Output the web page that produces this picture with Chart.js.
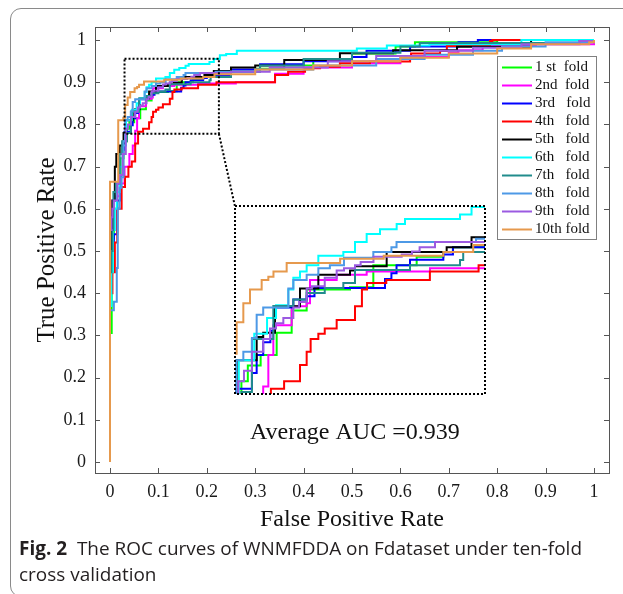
<!DOCTYPE html>
<html>
<head>
<meta charset="utf-8">
<script src="https://cdn.jsdelivr.net/npm/chart.js@4.4.1/dist/chart.umd.min.js"></script>
<style>
  html, body { margin: 0; padding: 0; background: #fff; overflow: hidden; }
  #wrap { position: relative; width: 623px; height: 594px; overflow: hidden; }
  #frame { position: absolute; left: 10px; top: 8px; width: 660px; height: 587px;
           border: 1px solid #8a8a8a; border-radius: 11px; }
  #main { position: absolute; left: 0; top: 0; }
  #inset { position: absolute; }
  .caption { position: absolute; left: 19px; font-family: "Open Sans", "Noto Sans", sans-serif;
             font-size: 19px; line-height: 19px; color: #231f20; white-space: nowrap;
             transform-origin: 0 0; }
</style>
</head>
<body>
<div id="wrap">
  <div id="frame"></div>
  <canvas id="main" width="623" height="594"></canvas>
  <canvas id="inset"></canvas>
  <div class="caption" id="cap1" style="top:539px"><b>Fig. 2</b>&nbsp; The ROC curves of WNMFDDA on Fdataset under ten-fold</div>
  <div class="caption" id="cap2" style="top:565px">cross validation</div>
</div>
<script>
// ROC points per fold, [FPR, TPR]
const fold1 = [[0,0],[0,0.306],[0.0035,0.53],[0.008,0.6],[0.015,0.66],[0.022,0.72],[0.028,0.76],[0.035,0.79],[0.04,0.805],[0.05,0.815],[0.0625,0.836],[0.0742,0.857],[0.0859,0.877],[0.1197,0.879],[0.1379,0.9],[0.1717,0.908],[0.1925,0.9125],[0.2,0.917],[0.25,0.925],[0.3,0.932],[0.36,0.94],[0.42,0.952],[0.5,0.968],[0.59,0.985],[0.63,0.995],[0.8,1],[1,1]];
const fold2 = [[0,0],[0,0.54],[0.003,0.58],[0.005,0.62],[0.012,0.63],[0.02,0.66],[0.03,0.7],[0.04,0.73],[0.047,0.75],[0.052,0.785],[0.056,0.815],[0.0599,0.843],[0.0742,0.861],[0.0859,0.864],[0.0885,0.886],[0.1093,0.891],[0.1327,0.894],[0.1821,0.897],[0.26,0.9],[0.341,0.92],[0.4,0.935],[0.5,0.945],[0.6,0.96],[0.7,0.97],[0.72,0.976],[0.77,0.987],[0.88,0.99],[1,1]];
const fold3 = [[0,0],[0,0.45],[0.004,0.5],[0.008,0.54],[0.015,0.62],[0.022,0.68],[0.027,0.74],[0.03,0.783],[0.0432,0.798],[0.0469,0.815],[0.052,0.827],[0.0576,0.838],[0.0612,0.86],[0.0755,0.8675],[0.0859,0.8706],[0.092,0.8784],[0.147,0.8868],[0.152,0.8923],[0.156,0.9],[0.1665,0.905],[0.1925,0.91],[0.2,0.917],[0.25,0.93],[0.31,0.943],[0.4,0.95],[0.5,0.96],[0.53,0.975],[0.62,0.985],[0.72,0.995],[0.76,1],[1,1]];
const fold4 = [[0,0],[0,0.4],[0.005,0.45],[0.01,0.52],[0.015,0.6],[0.024,0.652],[0.031,0.676],[0.038,0.7],[0.045,0.712],[0.052,0.755],[0.058,0.783],[0.0683,0.79],[0.0807,0.8055],[0.0859,0.8179],[0.089,0.83],[0.095,0.835],[0.1,0.84],[0.1093,0.848],[0.1236,0.861],[0.129,0.877],[0.133,0.883],[0.148,0.886],[0.182,0.894],[0.22,0.9],[0.341,0.917],[0.368,0.925],[0.403,0.933],[0.434,0.937],[0.475,0.945],[0.537,0.949],[0.62,0.96],[0.622,0.968],[0.682,0.975],[0.696,0.986],[0.785,0.998],[0.79,1],[1,1]];
const fold5 = [[0,0],[0,0.45],[0.002,0.55],[0.005,0.62],[0.01,0.7],[0.013,0.73],[0.02,0.75],[0.028,0.78],[0.0313,0.81],[0.0469,0.832],[0.052,0.836],[0.0612,0.861],[0.0807,0.878],[0.095,0.891],[0.1197,0.895],[0.1236,0.899],[0.1483,0.9125],[0.1951,0.917],[0.2145,0.9265],[0.25,0.935],[0.3,0.94],[0.36,0.953],[0.475,0.969],[0.585,0.976],[0.717,0.984],[0.87,1],[1,1]];
const fold6 = [[0,0],[0,0.37],[0.003,0.45],[0.006,0.55],[0.01,0.6],[0.014,0.64],[0.02,0.7],[0.026,0.75],[0.033,0.81],[0.045,0.835],[0.055,0.85],[0.062,0.862],[0.0716,0.877],[0.0755,0.888],[0.0807,0.894],[0.0859,0.9],[0.095,0.909],[0.1145,0.9125],[0.1236,0.922],[0.1327,0.9296],[0.1431,0.934],[0.1561,0.939],[0.1626,0.9436],[0.2055,0.948],[0.2145,0.955],[0.227,0.964],[0.24,0.967],[0.262,0.975],[0.51,0.98],[0.572,0.987],[0.66,0.99],[0.85,1],[1,1]];
const fold7 = [[0,0],[0,0.45],[0.003,0.5],[0.005,0.55],[0.007,0.64],[0.012,0.66],[0.02,0.73],[0.025,0.76],[0.035,0.78],[0.0432,0.83],[0.0599,0.8613],[0.0755,0.8675],[0.0859,0.8737],[0.1,0.8784],[0.1145,0.883],[0.1236,0.8954],[0.1665,0.9],[0.2055,0.9048],[0.208,0.9125],[0.25,0.925],[0.31,0.94],[0.4,0.955],[0.5,0.97],[0.6,0.985],[0.64,0.993],[0.97,0.998],[1,1]];
const fold8 = [[0,0],[0,0.36],[0.008,0.38],[0.014,0.46],[0.016,0.6],[0.02,0.65],[0.024,0.675],[0.028,0.76],[0.031,0.81],[0.0365,0.818],[0.0432,0.831],[0.0469,0.853],[0.052,0.86],[0.0716,0.878],[0.0755,0.886],[0.0859,0.891],[0.095,0.897],[0.104,0.9],[0.115,0.907],[0.1379,0.9125],[0.152,0.917],[0.156,0.922],[0.218,0.925],[0.3,0.93],[0.42,0.94],[0.55,0.955],[0.65,0.965],[0.75,0.975],[0.81,0.985],[0.9,0.995],[1,1]];
const fold9 = [[0,0],[0,0.55],[0.003,0.58],[0.005,0.6],[0.008,0.62],[0.015,0.66],[0.02,0.68],[0.026,0.73],[0.0326,0.79],[0.037,0.8],[0.0432,0.818],[0.052,0.83],[0.0573,0.84],[0.062,0.845],[0.0677,0.85],[0.0755,0.86],[0.08,0.865],[0.0859,0.878],[0.09,0.88],[0.1,0.888],[0.1093,0.895],[0.115,0.897],[0.1236,0.9],[0.128,0.903],[0.138,0.908],[0.16,0.91],[0.168,0.913],[0.174,0.917],[0.186,0.922],[0.25,0.925],[0.33,0.935],[0.45,0.95],[0.55,0.962],[0.65,0.975],[0.75,0.982],[0.85,0.99],[0.97,0.998],[1,1]];
const fold10 = [[0,0],[0,0.664],[0.017,0.81],[0.0275,0.816],[0.0313,0.846],[0.0365,0.864],[0.0417,0.877],[0.0508,0.886],[0.056,0.889],[0.06,0.894],[0.0703,0.902],[0.112,0.906],[0.146,0.909],[0.1925,0.9125],[0.2158,0.919],[0.3,0.93],[0.42,0.94],[0.5,0.95],[0.6,0.958],[0.7,0.968],[0.8,0.98],[0.87,0.99],[0.99,0.995],[1,1]];

const folds = [fold1, fold2, fold3, fold4, fold5, fold6, fold7, fold8, fold9, fold10];
const foldNames = ['1 st  fold', '2nd  fold', '3rd   fold', '4th   fold', '5th   fold',
                   '6th   fold', '7th   fold', '8th   fold', '9th   fold', '10th fold'];
const xTicks = [0, 0.1, 0.2, 0.3, 0.4, 0.5, 0.6, 0.7, 0.8, 0.9, 1];
const yTicks = [0, 0.1, 0.2, 0.3, 0.4, 0.5, 0.6, 0.7, 0.8, 0.9, 1];
const aucText = 'Average AUC =0.939';

// styles / placement
const foldColors = ['#00ff00', '#ff00ff', '#0000ff', '#ff0000', '#000000',
                    '#00ffff', '#218c8c', '#4d99e6', '#9b5ae1', '#e6994d'];
const zoomX = [0.03, 0.225], zoomY = [0.778, 0.956];     // region magnified
const insetX = [0.258, 0.775], insetY = [0.161, 0.607];  // where the inset sits
const serif = '"Liberation Serif", "Times New Roman", serif';

function makeDatasets(clip) {
  return folds.map((pts, i) => ({
    label: foldNames[i],
    data: pts.map(p => ({ x: p[0], y: p[1] })),
    borderColor: foldColors[i],
    borderWidth: 2,
    pointRadius: 0,
    stepped: true,
    fill: false,
    clip: clip,
    order: folds.length - i
  }));
}

function dotted(ctx) {
  ctx.strokeStyle = '#000';
  ctx.lineWidth = 2;
  ctx.setLineDash([2, 2]);
}

// axes box, inward ticks, zoom marker, legend and AUC text
const decorPlugin = {
  id: 'decor',
  afterDatasetsDraw(chart) {
    const ctx = chart.ctx, a = chart.chartArea;
    const xs = chart.scales.x, ys = chart.scales.y;
    ctx.save();
    // box + ticks
    ctx.strokeStyle = '#555';
    ctx.lineWidth = 1;
    ctx.strokeRect(a.left + 0.5, a.top + 0.5, a.right - a.left, a.bottom - a.top);
    ctx.beginPath();
    xTicks.forEach(v => {
      const px = Math.round(xs.getPixelForValue(v)) + 0.5;
      ctx.moveTo(px, a.bottom); ctx.lineTo(px, a.bottom - 5);
      ctx.moveTo(px, a.top); ctx.lineTo(px, a.top + 5);
    });
    yTicks.forEach(v => {
      const py = Math.round(ys.getPixelForValue(v)) + 0.5;
      ctx.moveTo(a.left, py); ctx.lineTo(a.left + 5, py);
      ctx.moveTo(a.right, py); ctx.lineTo(a.right - 5, py);
    });
    ctx.stroke();

    // zoom marker and connector
    const x0 = xs.getPixelForValue(zoomX[0]), x1 = xs.getPixelForValue(zoomX[1]);
    const y0 = ys.getPixelForValue(zoomY[0]), y1 = ys.getPixelForValue(zoomY[1]);
    dotted(ctx);
    ctx.strokeRect(x0, y1, x1 - x0, y0 - y1);
    ctx.beginPath();
    ctx.moveTo(x1, y0);
    ctx.lineTo(xs.getPixelForValue(insetX[0]), ys.getPixelForValue(insetY[1]));
    ctx.stroke();
    ctx.setLineDash([]);

    // legend
    const lx = 497, ly = 56, lw = 99, lh = 183;
    ctx.fillStyle = '#fff';
    ctx.fillRect(lx, ly, lw, lh);
    ctx.strokeStyle = '#808080';
    ctx.lineWidth = 1;
    ctx.strokeRect(lx + 0.5, ly + 0.5, lw, lh);
    ctx.font = '15px ' + serif;
    ctx.textBaseline = 'middle';
    ctx.textAlign = 'left';
    foldNames.forEach((name, i) => {
      const ry = 67.5 + i * 18;
      ctx.strokeStyle = foldColors[i];
      ctx.lineWidth = 2;
      ctx.beginPath();
      ctx.moveTo(502, ry); ctx.lineTo(532, ry);
      ctx.stroke();
      ctx.fillStyle = '#111';
      ctx.fillText(name, 535, ry);
    });

    // AUC note
    ctx.font = '24px ' + serif;
    ctx.textBaseline = 'alphabetic';
    ctx.fillStyle = '#111';
    ctx.fillText(aucText, 250, 439);
    ctx.restore();
  }
};

const mainChart = new Chart(document.getElementById('main'), {
  type: 'line',
  data: { datasets: makeDatasets(false) },
  options: {
    responsive: false,
    animation: false,
    layout: { padding: { left: 0, top: 27, right: 14, bottom: 0 } },
    plugins: { legend: { display: false }, tooltip: { enabled: false } },
    scales: {
      x: {
        type: 'linear', min: -0.031, max: 1.031,
        grid: { display: false, drawTicks: false },
        border: { display: false },
        afterBuildTicks: s => { s.ticks = xTicks.map(v => ({ value: v })); },
        afterFit: s => { s.height = 121; },
        ticks: { font: { family: serif, size: 18 }, color: '#1a1a1a', padding: 8,
                 maxRotation: 0, autoSkip: false, callback: v => String(v) },
        title: { display: true, text: 'False Positive Rate', color: '#111',
                 font: { family: serif, size: 24 }, padding: { top: 0, bottom: 60 } }
      },
      y: {
        type: 'linear', min: -0.026, max: 1.031,
        grid: { display: false, drawTicks: false },
        border: { display: false },
        afterBuildTicks: s => { s.ticks = yTicks.map(v => ({ value: v })); },
        afterFit: s => { s.width = 95; },
        ticks: { font: { family: serif, size: 18 }, color: '#1a1a1a', padding: 9,
                 autoSkip: false, callback: v => String(v) },
        title: { display: true, text: 'True Positive Rate', color: '#111',
                 font: { family: serif, size: 25 }, padding: { top: 32, bottom: 0 } }
      }
    }
  },
  plugins: [decorPlugin]
});

// inset: same folds, zoomed into the marked region
const xs = mainChart.scales.x, ys = mainChart.scales.y;
const insetCanvas = document.getElementById('inset');
const m = 3;
const ix0 = xs.getPixelForValue(insetX[0]), ix1 = xs.getPixelForValue(insetX[1]);
const iy0 = ys.getPixelForValue(insetY[1]), iy1 = ys.getPixelForValue(insetY[0]);
insetCanvas.width = Math.round(ix1 - ix0) + 2 * m;
insetCanvas.height = Math.round(iy1 - iy0) + 2 * m;
insetCanvas.style.left = Math.round(ix0 - m) + 'px';
insetCanvas.style.top = Math.round(iy0 - m) + 'px';

const insetBorder = {
  id: 'insetBorder',
  afterDraw(chart) {
    const ctx = chart.ctx, a = chart.chartArea;
    ctx.save();
    dotted(ctx);
    ctx.strokeRect(a.left, a.top, a.right - a.left, a.bottom - a.top);
    ctx.restore();
  }
};

new Chart(insetCanvas, {
  type: 'line',
  data: { datasets: makeDatasets(0) },
  options: {
    responsive: false,
    animation: false,
    layout: { padding: m },
    plugins: { legend: { display: false }, tooltip: { enabled: false } },
    scales: {
      x: { type: 'linear', min: zoomX[0], max: zoomX[1], display: false },
      y: { type: 'linear', min: zoomY[0], max: zoomY[1], display: false }
    }
  },
  plugins: [insetBorder]
});

// caption: fit line width to the figure
const cap1 = document.getElementById('cap1');
const cap2 = document.getElementById('cap2');
const k = 563 / cap1.getBoundingClientRect().width;
cap1.style.transform = 'scaleX(' + k + ')';
cap2.style.transform = 'scaleX(' + k + ')';
</script>
</body>
</html>
